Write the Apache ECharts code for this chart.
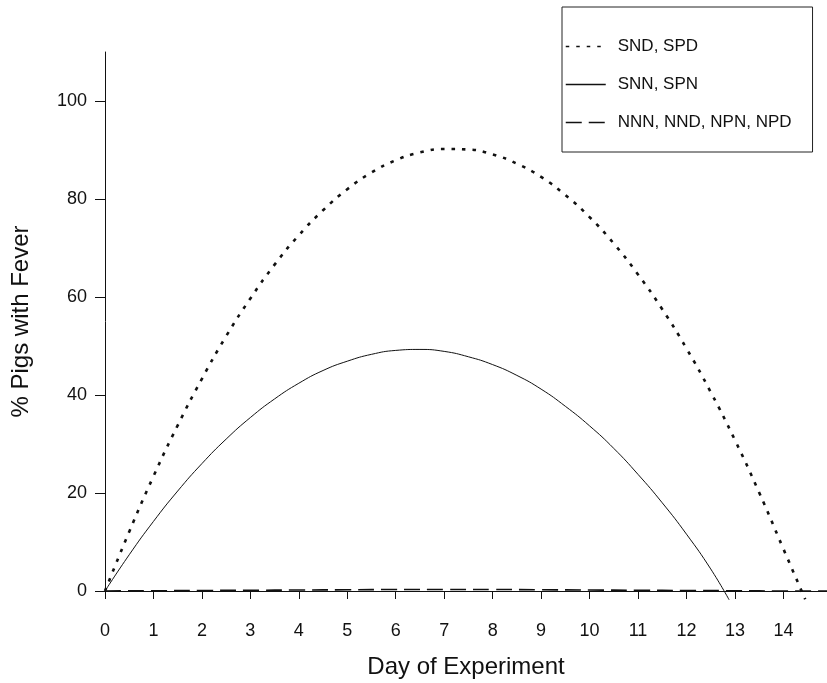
<!DOCTYPE html>
<html>
<head>
<meta charset="utf-8">
<script src="https://cdn.jsdelivr.net/npm/echarts@6/dist/echarts.min.js"></script>
<style>
  html, body { margin: 0; padding: 0; background: #fff; }
  #chart { width: 827px; height: 683px; }
</style>
</head>
<body>
<div id="chart"></div>
<script>
// values (day, % pigs with fever)
const sndDays = [0, 0.5, 1, 1.5, 2, 2.5, 3, 3.5, 4, 4.5, 5, 5.5, 6, 6.5, 7, 7.5, 8, 8.5, 9, 9.5, 10, 10.5, 11, 11.5, 12, 12.5, 13, 13.5, 14, 14.45];
const sndPct = [0, 12.1, 23.4, 33.8, 43.3, 52.0, 59.7, 66.6, 72.6, 77.7, 82.0, 85.4, 87.9, 89.5, 90.2, 90.1, 89.1, 87.2, 84.5, 80.8, 76.3, 70.9, 64.6, 57.5, 49.5, 40.6, 30.8, 20.1, 8.6, -1.7];

const snnDays = [0, 0.5, 1, 1.5, 2, 2.5, 3, 3.5, 4, 4.5, 5, 5.5, 6, 6.5, 7, 7.5, 8, 8.5, 9, 9.5, 10, 10.5, 11, 11.5, 12, 12.5, 12.88];
const snnPct = [0, 7.4, 14.2, 20.4, 26.0, 31.0, 35.4, 39.2, 42.4, 45.0, 46.9, 48.3, 49.1, 49.3, 48.9, 47.8, 46.2, 44.0, 41.2, 37.7, 33.7, 29.1, 23.8, 18.0, 11.6, 4.5, -1.8];

const nnnDays = [0, 1, 2, 3, 4, 5, 6, 7, 8, 9, 10, 11, 12, 13, 14, 14.9];
const nnnPct = [0, 0.05, 0.1, 0.15, 0.2, 0.25, 0.3, 0.3, 0.3, 0.25, 0.2, 0.15, 0.1, 0.05, 0, 0];

const xTicks = [0, 1, 2, 3, 4, 5, 6, 7, 8, 9, 10, 11, 12, 13, 14];
const yTicks = [0, 20, 40, 60, 80, 100];

const pairs = (xs, ys) => xs.map((x, i) => [x, ys[i]]);

const chart = echarts.init(document.getElementById('chart'));
const font = 'Liberation Sans, Arial, sans-serif';
const ink = '#111';

const option = {
  backgroundColor: '#fff',
  animation: false,
  textStyle: { fontFamily: font, color: ink },
  grid: { left: 105, right: 0, top: 52, bottom: 92, outerBoundsMode: 'none', containLabel: false },
  legend: {
    orient: 'vertical',
    left: 562,
    top: 7,
    itemWidth: 40,
    itemHeight: 14,
    itemGap: 21,
    padding: [31, 21, 21, 3],
    borderColor: '#222',
    borderWidth: 1,
    itemStyle: { opacity: 0 },
    lineStyle: { width: 1.5 },
    textStyle: { fontSize: 17, color: ink, padding: [0, 0, 0, 7] },
    data: ['SND, SPD', 'SNN, SPN', 'NNN, NND, NPN, NPD'],
  },
  xAxis: {
    type: 'value',
    min: 0,
    max: 14.9,
    offset: 9,
    name: 'Day of Experiment',
    nameLocation: 'middle',
    nameGap: 55,
    nameTextStyle: { fontSize: 24, color: ink },
    splitLine: { show: false },
    axisLine: { lineStyle: { color: ink, width: 1 } },
    axisTick: { customValues: xTicks, length: 8, lineStyle: { color: ink } },
    axisLabel: { customValues: xTicks, fontSize: 18, color: ink, margin: 22 },
  },
  yAxis: {
    type: 'value',
    min: 0,
    max: 110,
    name: '% Pigs with Fever',
    nameLocation: 'middle',
    nameGap: 72,
    nameTextStyle: { fontSize: 24, color: ink },
    splitLine: { show: false },
    axisLine: { show: true, lineStyle: { color: ink, width: 1 } },
    axisTick: { customValues: yTicks, length: 10, lineStyle: { color: ink } },
    axisLabel: { customValues: yTicks, fontSize: 18, color: ink, margin: 18 },
  },
  series: [
    {
      name: 'SND, SPD',
      type: 'line',
      data: pairs(sndDays, sndPct),
      smooth: true,
      clip: false,
      showSymbol: false,
      symbol: 'none',
      itemStyle: { color: ink },
      lineStyle: { color: ink, width: 2.6, type: [3.5, 7] },
    },
    {
      name: 'SNN, SPN',
      type: 'line',
      data: pairs(snnDays, snnPct),
      smooth: true,
      clip: false,
      showSymbol: false,
      symbol: 'none',
      itemStyle: { color: ink },
      lineStyle: { color: ink, width: 1 },
    },
    {
      name: 'NNN, NND, NPN, NPD',
      type: 'line',
      data: pairs(nnnDays, nnnPct),
      smooth: true,
      clip: false,
      showSymbol: false,
      symbol: 'none',
      itemStyle: { color: ink },
      lineStyle: { color: ink, width: 1.6, type: [16, 7] },
    },
  ],
};

chart.setOption(option);
</script>
</body>
</html>
